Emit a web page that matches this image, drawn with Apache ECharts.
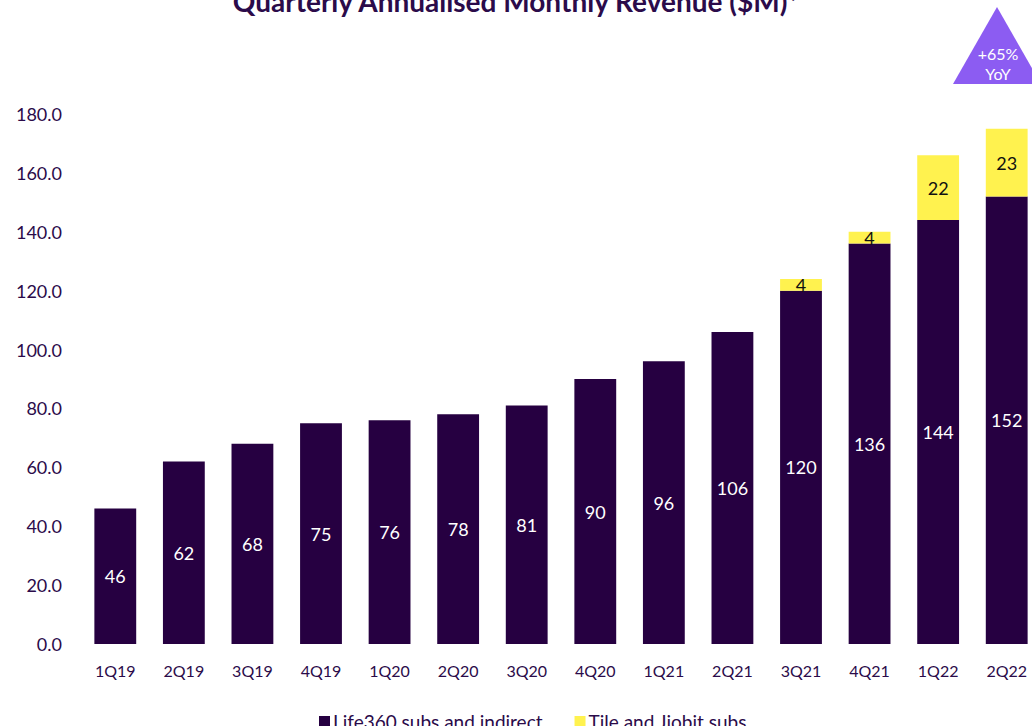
<!DOCTYPE html>
<html>
<head>
<meta charset="utf-8">
<script src="https://cdn.jsdelivr.net/npm/echarts@6/dist/echarts.min.js"></script>
<style>
  html, body { margin: 0; padding: 0; background: #ffffff; }
  #chart { width: 1032px; height: 726px; }
</style>
</head>
<body>
<div id="chart"></div>
<script>
var quarters = ['1Q19', '2Q19', '3Q19', '4Q19', '1Q20', '2Q20', '3Q20', '4Q20', '1Q21', '2Q21', '3Q21', '4Q21', '1Q22', '2Q22'];
var life360 = [46, 62, 68, 75, 76, 78, 81, 90, 96, 106, 120, 136, 144, 152];
var tileJiobit = [null, null, null, null, null, null, null, null, null, null, 4, 4, 22, 23];

var dark = '#260041';
var yellow = '#FFF24F';
var violet = '#8C5CF2';
var ink = '#2B0B4A';
var font = 'Lato, "Noto Sans", sans-serif';

var chart = echarts.init(document.getElementById('chart'), null, { renderer: 'svg' });
chart.setOption({
  animation: false,
  textStyle: { fontFamily: font },
  title: {
    text: 'Quarterly Annualised Monthly Revenue ($M)*',
    left: 'center',
    top: -18,
    textStyle: { color: ink, fontSize: 28, fontWeight: 'bold', fontFamily: font }
  },
  legend: {
    data: ['Life360 subs and indirect', 'Tile and Jiobit subs'],
    left: 314,
    top: 707,
    itemWidth: 11,
    itemHeight: 11,
    itemGap: 32,
    icon: 'rect',
    textStyle: { color: ink, fontSize: 19, padding: [0, 0, 0, -2] }
  },
  grid: { left: 81, width: 960, top: 114, bottom: 82, outerBoundsMode: 'none' },
  xAxis: {
    type: 'category',
    data: quarters,
    axisLine: { show: false },
    axisTick: { show: false },
    axisLabel: { color: ink, fontSize: 16, margin: 18 }
  },
  yAxis: {
    type: 'value',
    min: 0,
    max: 180,
    interval: 20,
    axisLine: { show: false },
    axisTick: { show: false },
    splitLine: { show: false },
    axisLabel: {
      color: ink,
      fontSize: 18,
      margin: 19,
      formatter: function(v) { return v.toFixed(1); }
    }
  },
  series: [
    {
      name: 'Life360 subs and indirect',
      type: 'bar',
      stack: 'rev',
      data: life360,
      barWidth: '61%',
      itemStyle: { color: dark },
      label: { show: true, position: 'inside', color: '#ffffff', fontSize: 18 }
    },
    {
      name: 'Tile and Jiobit subs',
      type: 'bar',
      stack: 'rev',
      data: tileJiobit,
      barWidth: '61%',
      itemStyle: { color: yellow },
      label: { show: true, position: 'inside', color: '#111111', fontSize: 18 }
    }
  ],
  graphic: [
    {
      type: 'polygon',
      shape: { points: [[997, 7], [953, 84], [1041, 84]] },
      style: { fill: violet }
    },
    {
      type: 'text',
      x: 998,
      y: 53,
      style: { text: '+65%', fill: '#ffffff', fontSize: 16, fontFamily: font, align: 'center', verticalAlign: 'middle' }
    },
    {
      type: 'text',
      x: 998,
      y: 73,
      style: { text: 'YoY', fill: '#ffffff', fontSize: 16, fontFamily: font, align: 'center', verticalAlign: 'middle' }
    }
  ]
});
</script>
</body>
</html>
